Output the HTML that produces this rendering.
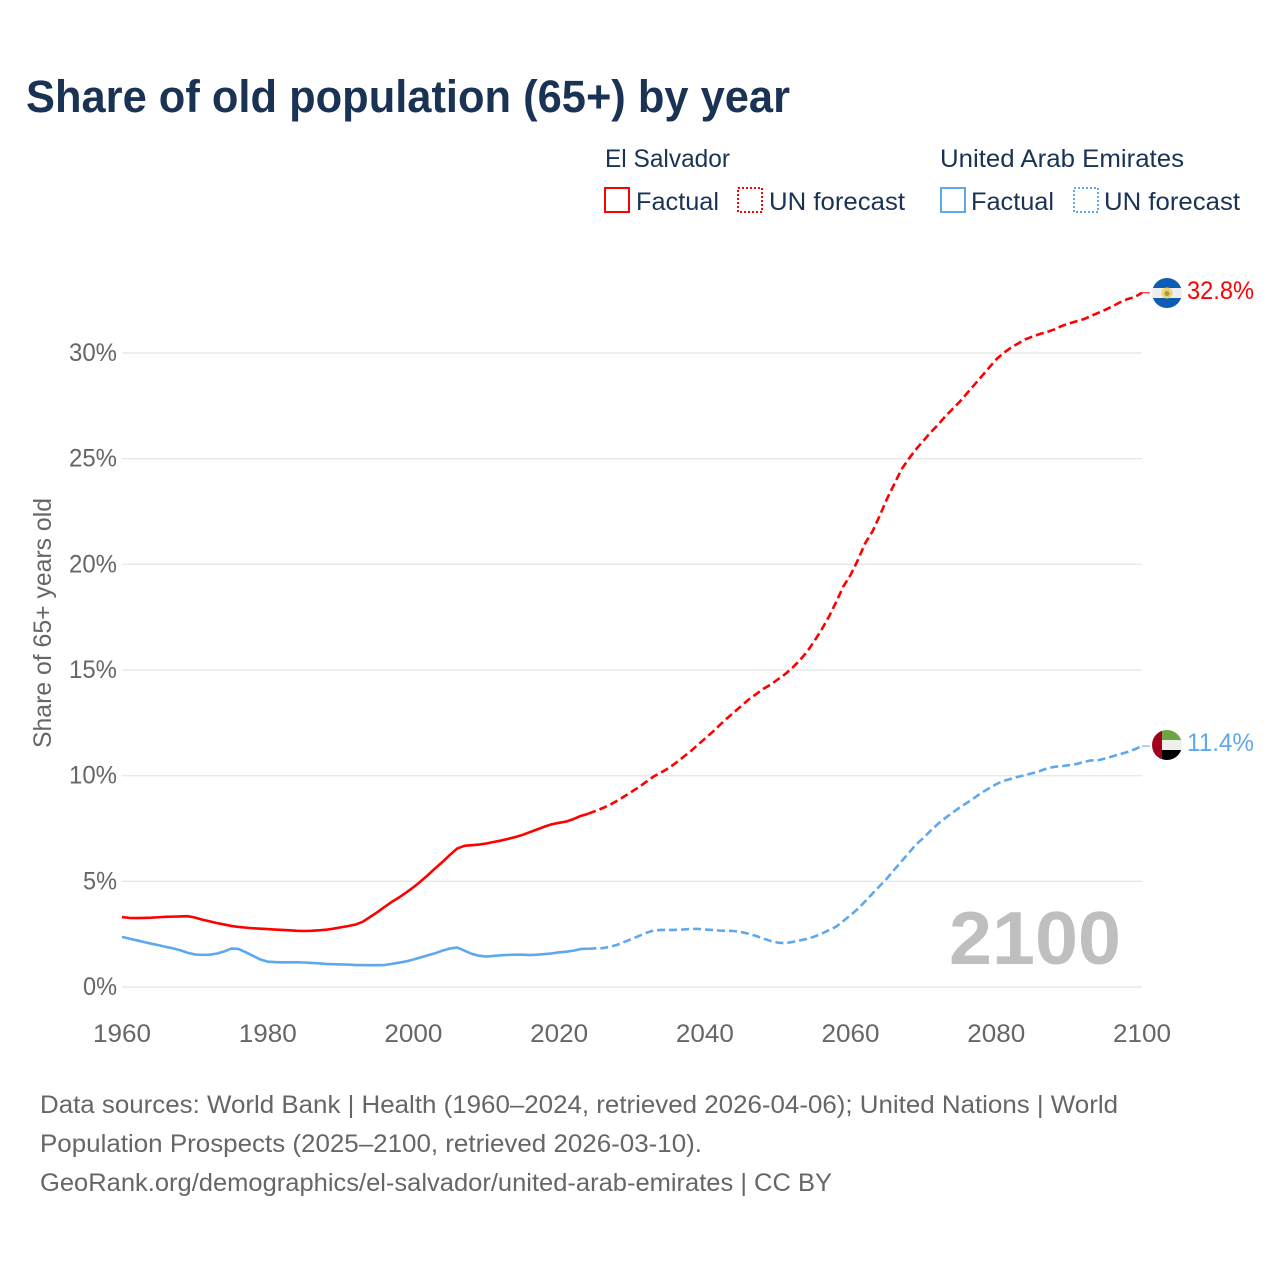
<!DOCTYPE html>
<html lang="en">
<head>
<meta charset="utf-8">
<title>Share of old population (65+) by year</title>
<style>
html,body{margin:0;padding:0;background:#fff}
svg{display:block;font-family:"Liberation Sans",sans-serif}
</style>
</head>
<body>
<svg id="chart" xmlns="http://www.w3.org/2000/svg" width="1280" height="1280" viewBox="0 0 1280 1280">
  <rect x="0" y="0" width="1280" height="1280" fill="#fff"/>
  <text x="26" y="112" font-size="45" font-weight="700" fill="#1a3354" textLength="764" lengthAdjust="spacingAndGlyphs">Share of old population (65+) by year</text>

  <g font-size="25" fill="#1a3354">
    <text x="605" y="167" textLength="125" lengthAdjust="spacingAndGlyphs">El Salvador</text>
    <rect x="605" y="188" width="24" height="24" fill="none" stroke="#ff0000" stroke-width="2"/>
    <text x="636" y="210" textLength="83" lengthAdjust="spacingAndGlyphs">Factual</text>
    <rect x="738" y="188" width="24" height="24" fill="none" stroke="#ff0000" stroke-width="2" stroke-dasharray="2 2"/>
    <text x="769" y="210" textLength="136" lengthAdjust="spacingAndGlyphs">UN forecast</text>

    <text x="940" y="167" textLength="244" lengthAdjust="spacingAndGlyphs">United Arab Emirates</text>
    <rect x="941" y="188" width="24" height="24" fill="none" stroke="#5ea8ee" stroke-width="2"/>
    <text x="971" y="210" textLength="83" lengthAdjust="spacingAndGlyphs">Factual</text>
    <rect x="1074" y="188" width="24" height="24" fill="none" stroke="#5ea8ee" stroke-width="2" stroke-dasharray="2 2"/>
    <text x="1104" y="210" textLength="136" lengthAdjust="spacingAndGlyphs">UN forecast</text>
  </g>

  <g id="grid"></g>
  <g id="yticks" font-size="25" fill="#666"></g>
  <g id="xticks" font-size="25" fill="#666"></g>

  <text transform="translate(51,748) rotate(-90)" x="0" y="0" font-size="25" fill="#666" textLength="250" lengthAdjust="spacingAndGlyphs">Share of 65+ years old</text>
  <text x="949" y="964" font-size="75" font-weight="700" fill="#bfbfbf" textLength="172" lengthAdjust="spacingAndGlyphs">2100</text>

  <g id="series"></g>

  <defs>
    <clipPath id="clip-sv"><circle cx="1167" cy="293" r="15"/></clipPath>
    <clipPath id="clip-ae"><circle cx="1167" cy="745" r="15"/></clipPath>
  </defs>
  <g clip-path="url(#clip-sv)">
    <rect x="1152" y="278" width="30" height="10" fill="#0f5cb5"/>
    <rect x="1152" y="288" width="30" height="10" fill="#eeeeee"/>
    <rect x="1152" y="298" width="30" height="10" fill="#0f5cb5"/>
    <circle cx="1167" cy="293" r="5.5" fill="#f5d06a"/>
    <circle cx="1167" cy="293.5" r="2.4" fill="#7fa84f"/>
  </g>
  <g clip-path="url(#clip-ae)">
    <rect x="1152" y="730" width="30" height="10" fill="#6da544"/>
    <rect x="1152" y="740" width="30" height="10" fill="#eeeeee"/>
    <rect x="1152" y="750" width="30" height="10" fill="#000000"/>
    <rect x="1152" y="730" width="10" height="30" fill="#a2001d"/>
  </g>
  <text x="1187" y="299" font-size="25" fill="#ff0000" textLength="67" lengthAdjust="spacingAndGlyphs">32.8%</text>
  <text x="1187" y="751" font-size="25" fill="#5ea8ee" textLength="67" lengthAdjust="spacingAndGlyphs">11.4%</text>

  <g font-size="25" fill="#666">
    <text x="40" y="1113" textLength="1078" lengthAdjust="spacingAndGlyphs">Data sources: World Bank | Health (1960–2024, retrieved 2026-04-06); United Nations | World</text>
    <text x="40" y="1152" textLength="662" lengthAdjust="spacingAndGlyphs">Population Prospects (2025–2100, retrieved 2026-03-10).</text>
    <text x="40" y="1191" textLength="792" lengthAdjust="spacingAndGlyphs">GeoRank.org/demographics/el-salvador/united-arab-emirates | CC BY</text>
  </g>
</svg>
<script>
const xTickLabels = [1960, 1980, 2000, 2020, 2040, 2060, 2080, 2100];
const yTickValues = [0, 5, 10, 15, 20, 25, 30];
const factualStartYear = 1960;
const forecastStartYear = 2024;
const elSalvadorFactual = [
  3.31,3.27,3.26,3.27,3.28,3.30,3.32,3.33,3.34,3.35,
  3.29,3.19,3.11,3.03,2.96,2.89,2.84,2.81,2.78,2.76,
  2.74,2.72,2.70,2.68,2.66,2.65,2.66,2.68,2.71,2.76,
  2.82,2.88,2.95,3.08,3.30,3.53,3.78,4.02,4.23,4.47,
  4.72,5.00,5.30,5.62,5.92,6.25,6.55,6.68,6.71,6.74,
  6.79,6.86,6.93,7.01,7.10,7.20,7.33,7.46,7.59,7.70,
  7.77,7.83,7.95,8.10,8.20
];
const elSalvadorForecast = [
  8.20,8.33,8.47,8.63,8.82,9.03,9.25,9.47,9.72,9.97,
  10.15,10.35,10.60,10.87,11.14,11.45,11.75,12.05,12.38,12.70,
  13.00,13.30,13.60,13.85,14.10,14.30,14.55,14.80,15.10,15.45,
  15.85,16.35,16.90,17.50,18.20,18.95,19.50,20.20,21.00,21.55,
  22.30,23.10,23.80,24.50,25.00,25.45,25.85,26.25,26.60,27.00,
  27.35,27.70,28.10,28.50,28.90,29.30,29.70,30.00,30.25,30.45,
  30.65,30.78,30.90,31.00,31.12,31.28,31.40,31.50,31.60,31.75,
  31.90,32.05,32.22,32.40,32.55,32.65,32.85
];
const uaeFactual = [
  2.37,2.29,2.21,2.13,2.05,1.98,1.90,1.83,1.74,1.62,
  1.54,1.52,1.53,1.58,1.68,1.82,1.80,1.64,1.47,1.30,
  1.20,1.18,1.17,1.17,1.17,1.16,1.14,1.12,1.09,1.08,
  1.07,1.06,1.04,1.04,1.03,1.03,1.04,1.09,1.15,1.21,
  1.30,1.40,1.50,1.60,1.72,1.82,1.87,1.72,1.57,1.48,
  1.44,1.47,1.50,1.52,1.53,1.53,1.51,1.53,1.56,1.59,
  1.64,1.67,1.72,1.80,1.81
];
const uaeForecast = [
  1.81,1.83,1.84,1.90,2.00,2.14,2.28,2.42,2.57,2.68,
  2.70,2.70,2.70,2.72,2.75,2.75,2.72,2.70,2.67,2.66,
  2.65,2.60,2.52,2.42,2.30,2.18,2.10,2.07,2.13,2.20,
  2.28,2.38,2.52,2.68,2.85,3.12,3.40,3.70,4.05,4.42,
  4.78,5.14,5.55,5.95,6.35,6.75,7.05,7.40,7.72,8.00,
  8.25,8.50,8.72,8.95,9.20,9.40,9.60,9.75,9.85,9.95,
  10.03,10.12,10.22,10.35,10.42,10.45,10.50,10.55,10.65,10.72,
  10.73,10.82,10.92,11.02,11.12,11.25,11.40
];

const NS = 'http://www.w3.org/2000/svg';
const xScale = year => 122 + (year - 1960) * (1142 - 122) / 140;
const yScale = pct => 987 - pct * (987 - 353) / 30;

function make(tag, parent) {
  const el = document.createElementNS(NS, tag);
  parent.appendChild(el);
  return el;
}
function linePath(values, startYear) {
  return values.map((v, i) => (i ? 'L' : 'M') + xScale(startYear + i).toFixed(2) + ' ' + yScale(v).toFixed(2)).join(' ');
}

const grid = document.getElementById('grid');
const yticks = document.getElementById('yticks');
const xticks = document.getElementById('xticks');
const series = document.getElementById('series');

yTickValues.forEach(v => {
  const line = make('line', grid);
  
  
  line.setAttribute('x1', 122);
  line.setAttribute('x2', 1142);
  line.setAttribute('y1', yScale(v));
  line.setAttribute('y2', yScale(v));
  line.setAttribute('stroke', '#e8e8e8');
  line.setAttribute('stroke-width', 1.4);
  const t = make('text', yticks);
  
  
  t.setAttribute('x', 117);
  t.setAttribute('y', yScale(v) + 8);
  t.setAttribute('text-anchor', 'end');
  t.setAttribute('textLength', v >= 10 ? 48 : 34);
  t.setAttribute('lengthAdjust', 'spacingAndGlyphs');
  t.textContent = v + '%';
});

xTickLabels.forEach(y => {
  const t = make('text', xticks);
  
  
  t.setAttribute('x', xScale(y));
  t.setAttribute('y', 1042);
  t.setAttribute('text-anchor', 'middle');
  t.setAttribute('textLength', 58);
  t.setAttribute('lengthAdjust', 'spacingAndGlyphs');
  t.textContent = y;
});

const blueFact = make('path', series);


blueFact.setAttribute('d', linePath(uaeFactual, factualStartYear));
blueFact.setAttribute('fill', 'none');
blueFact.setAttribute('stroke', '#5ea8ee');
blueFact.setAttribute('stroke-width', 2.6);
blueFact.setAttribute('stroke-linejoin', 'round');

const blueFore = make('path', series);


blueFore.setAttribute('d', linePath(uaeForecast, forecastStartYear));
blueFore.setAttribute('fill', 'none');
blueFore.setAttribute('stroke', '#5ea8ee');
blueFore.setAttribute('stroke-width', 2.6);
blueFore.setAttribute('stroke-dasharray', '8 4');

const redFact = make('path', series);


redFact.setAttribute('d', linePath(elSalvadorFactual, factualStartYear));
redFact.setAttribute('fill', 'none');
redFact.setAttribute('stroke', '#ff0000');
redFact.setAttribute('stroke-width', 2.6);
redFact.setAttribute('stroke-linejoin', 'round');

const redFore = make('path', series);


redFore.setAttribute('d', linePath(elSalvadorForecast, forecastStartYear));
redFore.setAttribute('fill', 'none');
redFore.setAttribute('stroke', '#ff0000');
redFore.setAttribute('stroke-width', 2.6);
redFore.setAttribute('stroke-dasharray', '8 4');

const redLead = make('line', series);


redLead.setAttribute('x1', xScale(2100));
redLead.setAttribute('x2', 1150);
redLead.setAttribute('y1', yScale(elSalvadorForecast[elSalvadorForecast.length - 1]));
redLead.setAttribute('y2', yScale(elSalvadorForecast[elSalvadorForecast.length - 1]));
redLead.setAttribute('stroke', '#ff0000');
redLead.setAttribute('stroke-width', 1);

const blueLead = make('line', series);


blueLead.setAttribute('x1', xScale(2100));
blueLead.setAttribute('x2', 1150);
blueLead.setAttribute('y1', yScale(uaeForecast[uaeForecast.length - 1]));
blueLead.setAttribute('y2', yScale(uaeForecast[uaeForecast.length - 1]));
blueLead.setAttribute('stroke', '#5ea8ee');
blueLead.setAttribute('stroke-width', 1);
</script>
</body>
</html>
